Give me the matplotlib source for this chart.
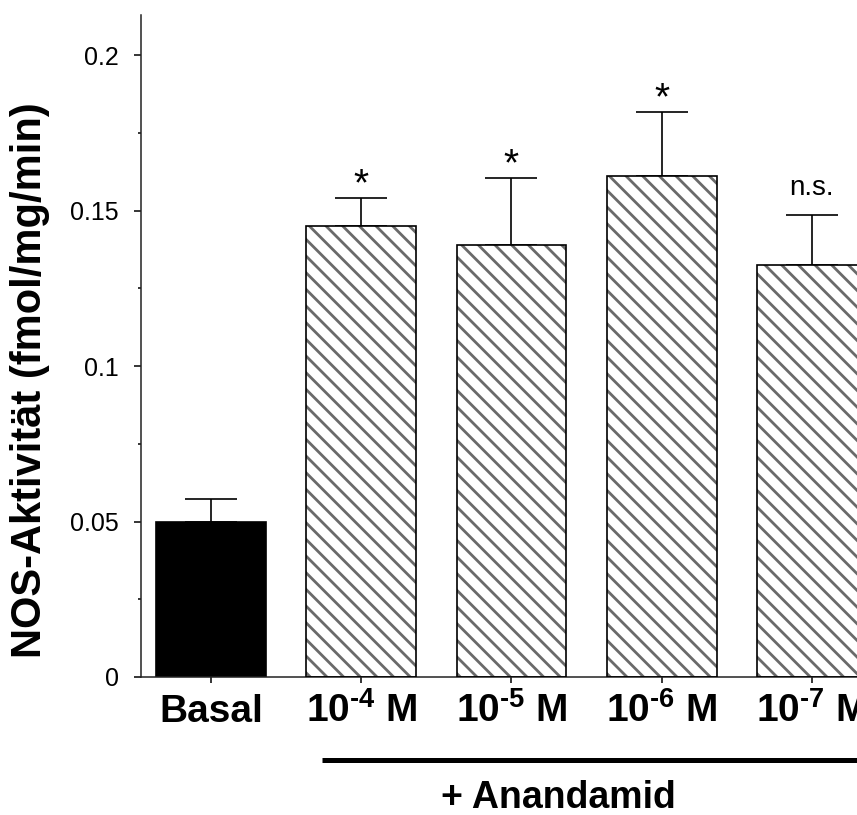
import numpy as np
import matplotlib
matplotlib.use("Agg")
import matplotlib.pyplot as plt
import matplotlib.transforms as mtransforms

plt.rcParams["font.family"] = ["Liberation Sans", "DejaVu Sans"]
plt.rcParams["mathtext.fontset"] = "custom"
plt.rcParams["mathtext.rm"] = "Liberation Sans:bold"
plt.rcParams["mathtext.default"] = "regular"
plt.rcParams["hatch.linewidth"] = 2.0
plt.rcParams["hatch.color"] = "#6a6a6a"

# NOS activity, basal vs. anandamide concentrations
groups = ["Basal", r"10$^{\text{-4}}$ M", r"10$^{\text{-5}}$ M",
          r"10$^{\text{-6}}$ M", r"10$^{\text{-7}}$ M"]
activity = [0.050, 0.145, 0.139, 0.161, 0.1325]
sem = [0.0073, 0.0089, 0.0214, 0.0208, 0.0162]
signif = ["", "*", "*", "*", "n.s."]

x = np.arange(len(groups))
width = 0.73

fig = plt.figure(figsize=(8.57, 8.15), dpi=100)
ax = fig.add_axes([141 / 857, 1 - 677 / 815, 716 / 857, 662 / 815])

# basal bar solid, treatment bars hatched
ax.bar(x[:1], activity[:1], width, color="black", edgecolor="black", linewidth=1.2, zorder=2)
ax.bar(x[1:], activity[1:], width, color="white", edgecolor="#6a6a6a", linewidth=0,
       hatch="\\\\", zorder=2)
ax.bar(x[1:], activity[1:], width, color="none", edgecolor="black", linewidth=1.2, zorder=3)

# upper error bars only
ax.errorbar(x, activity, yerr=[np.zeros(len(sem)), sem], fmt="none", ecolor="black",
            elinewidth=1.2, capsize=19, capthick=1.2, zorder=1)

for xi, top, err, s in zip(x, activity, sem, signif):
    if not s:
        continue
    if s == "*":
        ax.annotate(s, (xi, top + err), xytext=(0, 2), textcoords="offset points",
                    ha="center", va="baseline", fontsize=28)
    else:
        ax.annotate(s, (xi, top + err), xytext=(0, 14), textcoords="offset points",
                    ha="center", va="baseline", fontsize=20)

ax.set_xlim(-0.466, 4.30)
ax.set_ylim(0, 0.2129)
ax.set_yticks([0, 0.05, 0.1, 0.15, 0.2])
ax.set_yticklabels(["0", "0.05", "0.1", "0.15", "0.2"], fontsize=18)
ax.set_yticks([0.025, 0.075, 0.125, 0.175], minor=True)
ax.set_xticks(x)
ax.set_xticklabels(groups, fontsize=28, fontweight="bold")
for lbl in ax.get_xticklabels():
    lbl.set_verticalalignment("baseline")

ax.tick_params(axis="y", which="major", direction="out", length=5, width=1.1, pad=11)
ax.tick_params(axis="y", which="minor", direction="out", length=2.5, width=1.1)
ax.tick_params(axis="x", direction="out", length=4.5, width=1.1, pad=28)

for side in ["top", "right"]:
    ax.spines[side].set_visible(False)
for side in ["left", "bottom"]:
    ax.spines[side].set_linewidth(1.1)
    ax.spines[side].set_color("#222222")

# bracket under the anandamide groups
trans = mtransforms.blended_transform_factory(ax.transData, ax.transAxes)
ax.plot([0.739, 4.4], [-0.1254, -0.1254], color="black", linewidth=3.6,
        transform=trans, clip_on=False, solid_capstyle="butt")

fig.text(558 / 857, 7 / 815, "+ Anandamid", ha="center", va="baseline",
         fontsize=27, fontweight="bold")

fig.text(30 / 857, 1 - 380 / 815, "NOS-Aktivität (fmol/mg/min)", rotation=90,
         ha="center", va="center", fontsize=30, fontweight="bold")

fig.savefig("out.png", dpi=100)
